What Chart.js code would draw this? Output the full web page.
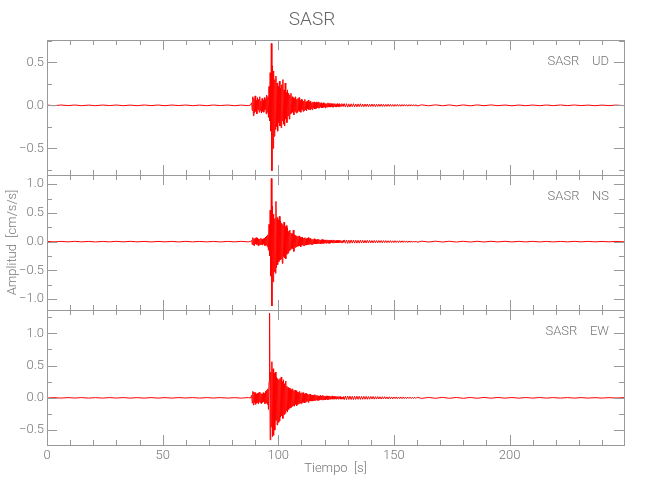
<!DOCTYPE html>
<html>
<head>
<meta charset="utf-8">
<script src="https://cdn.jsdelivr.net/npm/chart.js@4"></script>
<style>
  body { margin: 0; background: #fff; }
</style>
</head>
<body>
<canvas id="sismo" width="650" height="500"></canvas>
<script>
// ===== Datos (aceleración en cm/s/s) =====
const ESTACION = "SASR";
const COMPONENTES = ["UD", "NS", "EW"];

// marcas de los ejes
const xTicks = [0, 50, 100, 150, 200];
const yTicksUD = [-0.5, 0, 0.5];
const yTicksNS = [-1, -0.5, 0, 0.5, 1];
const yTicksEW = [-0.5, 0, 0.5, 1];

// tramo tranquilo antes del evento (s)
const tPre = [0, 3, 6, 9, 12, 15, 18, 21, 24, 27, 30, 33, 36, 39, 42, 45, 48, 51, 54, 57,
              60, 63, 66, 69, 72, 75, 78, 81, 84, 87, 88];
// fase fuerte: muestras cada DT segundos desde T0
const T0 = 88.5;
const DT = 0.25;
// coda: muestras cada DT1 segundos desde T1
const T1 = 128.5;
const DT1 = 0.5;
// ruido final (s)
const tPost = [162, 165, 168, 171, 174, 177, 180, 183, 186, 189,
               192, 195, 198, 201, 204, 207, 210, 213, 216, 219,
               222, 225, 228, 231, 234, 237, 240, 243, 246, 249.5];

// --- UD ---
const preUD = [0.003, -0.004, 0.004, -0.003, 0.004, -0.004, 0.003, -0.004, 0.004, -0.003,
               0.004, -0.004, 0.003, -0.004, 0.004, -0.003, 0.004, -0.004, 0.004, -0.003,
               0.004, -0.004, 0.003, -0.004, 0.004, -0.003, 0.004, -0.004, 0.003, -0.004, 0.003];
const actUD = [0.03, -0.06, 0.10, -0.12, 0.08, -0.09, 0.11, -0.07, 0.06, -0.10,
               0.09, -0.05, 0.07, -0.08, 0.10, -0.06, 0.05, -0.09, 0.08, -0.07,
               0.06, -0.08, 0.09, -0.05, 0.07, -0.10, 0.12, -0.08, 0.10, -0.14,
               0.22, -0.18, 0.38, -0.30, 0.72, -0.76, 0.46, -0.50, 0.40, -0.36,
               0.30, -0.28, 0.34, -0.25, 0.26, -0.30, 0.22, -0.20, 0.28, -0.24,
               0.20, -0.26, 0.24, -0.18, 0.30, -0.22, 0.18, -0.24, 0.26, -0.16,
               0.15, -0.20, 0.18, -0.12, 0.14, -0.16, 0.12, -0.10, 0.14, -0.09,
               0.10, -0.08, 0.09, -0.11, 0.08, -0.07, 0.10, -0.09, 0.07, -0.08,
               0.08, -0.06, 0.09, -0.07, 0.06, -0.08, 0.07, -0.05, 0.06, -0.07,
               0.05, -0.06, 0.07, -0.05, 0.04, -0.06, 0.05, -0.04, 0.06, -0.05,
               0.04, -0.05, 0.05, -0.04, 0.03, -0.05, 0.04, -0.03, 0.04, -0.04,
               0.03, -0.04, 0.04, -0.03, 0.03, -0.03, 0.04, -0.03, 0.03, -0.02,
               0.03, -0.03, 0.02, -0.03, 0.03, -0.02, 0.02, -0.03, 0.02, -0.02,
               0.02, -0.02, 0.03, -0.02, 0.02, -0.02, 0.02, -0.02, 0.02, -0.02,
               0.02, -0.02, 0.02, -0.01, 0.02, -0.02, 0.01, -0.02, 0.02, -0.01,
               0.01, -0.02, 0.02, -0.01, 0.01, -0.01, 0.02, -0.01, 0.01, -0.01];
const codaUD = [0.020, -0.018, 0.019, -0.021, 0.017, -0.019, 0.018, -0.016, 0.019, -0.017,
                0.016, -0.018, 0.017, -0.015, 0.018, -0.016, 0.015, -0.017, 0.016, -0.014,
                0.015, -0.016, 0.014, -0.015, 0.016, -0.013, 0.014, -0.015, 0.013, -0.014,
                0.013, -0.012, 0.014, -0.013, 0.012, -0.013, 0.011, -0.012, 0.013, -0.011,
                0.012, -0.011, 0.010, -0.012, 0.011, -0.010, 0.011, -0.010, 0.009, -0.011,
                0.010, -0.009, 0.010, -0.009, 0.008, -0.010, 0.009, -0.008, 0.009, -0.008,
                0.008, -0.009, 0.008, -0.007];
const postUD = [0.006, -0.005, 0.006, -0.005, 0.005, -0.006, 0.005, -0.005, 0.005, -0.004,
                0.005, -0.004, 0.004, -0.005, 0.004, -0.004, 0.004, -0.004, 0.004, -0.003,
                0.004, -0.003, 0.004, -0.003, 0.003, -0.004, 0.003, -0.003, 0.003, -0.003];

// --- NS ---
const preNS = [0.004, -0.005, 0.004, -0.004, 0.005, -0.004, 0.004, -0.005, 0.004, -0.004,
               0.005, -0.004, 0.005, -0.004, 0.004, -0.005, 0.004, -0.004, 0.004, -0.005,
               0.005, -0.004, 0.004, -0.004, 0.004, -0.005, 0.004, -0.004, 0.005, -0.004, 0.004];
const actNS = [0.02, -0.05, 0.07, -0.06, 0.05, -0.07, 0.06, -0.04, 0.07, -0.05,
               0.06, -0.07, 0.05, -0.06, 0.04, -0.05, 0.06, -0.05, 0.04, -0.06,
               0.05, -0.04, 0.06, -0.07, 0.08, -0.06, 0.10, -0.09, 0.12, -0.15,
               0.30, -0.25, 0.55, -0.60, 1.10, -1.12, 0.62, -0.70, 0.48, -0.52,
               0.40, -0.55, 0.70, -0.45, 0.42, -0.40, 0.38, -0.35, 0.44, -0.32,
               0.36, -0.30, 0.32, -0.38, 0.30, -0.26, 0.34, -0.28, 0.26, -0.30,
               0.28, -0.22, 0.24, -0.20, 0.18, -0.16, 0.20, -0.14, 0.15, -0.12,
               0.14, -0.12, 0.20, -0.17, 0.12, -0.10, 0.11, -0.09, 0.10, -0.08,
               0.09, -0.08, 0.10, -0.07, 0.08, -0.09, 0.07, -0.06, 0.08, -0.07,
               0.06, -0.07, 0.07, -0.06, 0.05, -0.06, 0.06, -0.05, 0.07, -0.05,
               0.05, -0.04, 0.06, -0.05, 0.04, -0.05, 0.04, -0.04, 0.05, -0.04,
               0.04, -0.04, 0.03, -0.04, 0.04, -0.03, 0.04, -0.03, 0.03, -0.04,
               0.03, -0.03, 0.04, -0.03, 0.03, -0.03, 0.03, -0.02, 0.03, -0.03,
               0.03, -0.02, 0.03, -0.03, 0.02, -0.03, 0.02, -0.02, 0.03, -0.02,
               0.02, -0.02, 0.03, -0.02, 0.02, -0.02, 0.02, -0.02, 0.02, -0.02,
               0.02, -0.02, 0.02, -0.01, 0.02, -0.02, 0.01, -0.02, 0.02, -0.01];
const codaNS = [0.030, -0.027, 0.028, -0.031, 0.026, -0.028, 0.029, -0.025, 0.027, -0.026,
                0.025, -0.027, 0.024, -0.026, 0.025, -0.023, 0.024, -0.025, 0.022, -0.024,
                0.023, -0.021, 0.022, -0.023, 0.020, -0.022, 0.021, -0.020, 0.019, -0.021,
                0.020, -0.018, 0.019, -0.020, 0.018, -0.017, 0.018, -0.019, 0.016, -0.017,
                0.017, -0.016, 0.015, -0.017, 0.016, -0.015, 0.014, -0.016, 0.015, -0.014,
                0.014, -0.013, 0.014, -0.012, 0.013, -0.014, 0.012, -0.013, 0.012, -0.011,
                0.012, -0.011, 0.010, -0.011];
const postNS = [0.008, -0.007, 0.008, -0.007, 0.007, -0.007, 0.006, -0.007, 0.006, -0.006,
                0.006, -0.005, 0.006, -0.005, 0.005, -0.005, 0.005, -0.005, 0.004, -0.005,
                0.004, -0.004, 0.005, -0.004, 0.004, -0.004, 0.004, -0.004, 0.004, -0.003];

// --- EW ---
const preEW = [-0.004, 0.003, -0.004, 0.004, -0.003, 0.004, -0.004, 0.003, -0.004, 0.004,
               -0.003, 0.004, -0.004, 0.003, -0.004, 0.004, -0.004, 0.003, -0.004, 0.004,
               -0.003, 0.004, -0.004, 0.004, -0.003, 0.004, -0.004, 0.003, -0.004, 0.004, -0.003];
const actEW = [0.04, -0.08, 0.10, -0.11, 0.09, -0.07, 0.08, -0.10, 0.06, -0.08,
               0.07, -0.09, 0.08, -0.06, 0.09, -0.08, 0.07, -0.09, 0.06, -0.07,
               0.08, -0.06, 0.07, -0.09, 0.10, -0.08, 0.12, -0.10, 0.14, -0.18,
               0.25, 1.31, -0.65, 0.40, -0.45, 0.56, -0.60, 0.45, -0.58, 0.38,
               -0.50, 0.40, -0.35, 0.32, -0.42, 0.30, -0.38, 0.28, -0.36, 0.30,
               -0.30, 0.32, -0.28, 0.25, -0.32, 0.28, -0.26, 0.22, -0.24, 0.26,
               -0.20, 0.18, -0.22, 0.16, -0.18, 0.15, -0.16, 0.14, -0.15, 0.12,
               -0.13, 0.14, -0.12, 0.11, -0.13, 0.12, -0.10, 0.11, -0.12, 0.09,
               -0.10, 0.08, -0.09, 0.10, -0.08, 0.07, -0.09, 0.08, -0.07, 0.08,
               -0.07, 0.06, -0.08, 0.07, -0.06, 0.07, -0.05, 0.06, -0.07, 0.05,
               -0.05, 0.06, -0.05, 0.04, -0.05, 0.04, -0.05, 0.04, -0.04, 0.05,
               -0.04, 0.04, -0.03, 0.04, -0.04, 0.03, -0.04, 0.03, -0.03, 0.04,
               -0.03, 0.03, -0.03, 0.04, -0.03, 0.03, -0.03, 0.02, -0.03, 0.03,
               -0.02, 0.03, -0.03, 0.02, -0.02, 0.03, -0.02, 0.02, -0.02, 0.03,
               -0.02, 0.02, -0.02, 0.02, -0.02, 0.02, -0.02, 0.02, -0.01, 0.02,
               -0.02, 0.02, -0.01, 0.02, -0.02, 0.01, -0.02, 0.01, -0.01, 0.02];
const codaEW = [-0.028, 0.026, -0.027, 0.029, -0.025, 0.027, -0.026, 0.024, -0.027, 0.025,
                -0.024, 0.026, -0.023, 0.025, -0.024, 0.022, -0.023, 0.024, -0.021, 0.023,
                -0.022, 0.020, -0.021, 0.022, -0.019, 0.021, -0.020, 0.018, -0.019, 0.020,
                -0.018, 0.017, -0.019, 0.017, -0.016, 0.018, -0.016, 0.015, -0.017, 0.016,
                -0.015, 0.014, -0.016, 0.014, -0.013, 0.015, -0.014, 0.013, -0.012, 0.014,
                -0.013, 0.012, -0.012, 0.011, -0.012, 0.011, -0.010, 0.011, -0.010, 0.010,
                -0.010, 0.009, -0.010, 0.009];
const postEW = [-0.008, 0.007, -0.007, 0.008, -0.007, 0.006, -0.007, 0.006, -0.006, 0.006,
                -0.005, 0.006, -0.005, 0.005, -0.005, 0.005, -0.004, 0.005, -0.004, 0.004,
                -0.004, 0.004, -0.004, 0.004, -0.004, 0.003, -0.004, 0.003, -0.003, 0.003];

// rangos de cada panel
const yRangoUD = [-0.81, 0.76];
const yRangoNS = [-1.19, 1.16];
const yRangoEW = [-0.73, 1.36];
const xMax = 249.5;

// ===== Armado de las series =====
function serie(pre, act, coda, post) {
    const pts = [];
    tPre.forEach((t, i) => pts.push({ x: t, y: pre[i] }));
    act.forEach((v, i) => pts.push({ x: T0 + i * DT, y: v }));
    coda.forEach((v, i) => pts.push({ x: T1 + i * DT1, y: v }));
    tPost.forEach((t, i) => pts.push({ x: t, y: post[i] }));
    return pts;
}

const FUENTE = "'Roboto', 'Liberation Sans', sans-serif";
const GRIS = '#777';
const MARCO = '#999';

function fmt(v) {
    const s = Math.abs(v).toFixed(1);
    return v < 0 ? '\u2212' + s : s;
}

function ejeY(rango, marcas, extra) {
    return Object.assign({
        type: 'linear',
        position: 'left',
        stack: 'sismo',
        stackWeight: 1,
        min: rango[0],
        max: rango[1],
        grid: { display: false, drawTicks: false },
        border: { display: false },
        ticks: {
            padding: 3,
            color: GRIS,
            font: { family: FUENTE, size: 13, weight: 300 },
            callback: v => fmt(v)
        },
        afterBuildTicks: s => { s.ticks = marcas.map(v => ({ value: v })); },
        afterFit: s => { s.width = 47; }
    }, extra || {});
}

// marco de cada panel, marcas de escala hacia dentro y rótulo de componente
const marcoPlugin = {
    id: 'marco',
    afterDatasetsDraw(chart) {
        const ctx = chart.ctx;
        const x = chart.scales.x;
        const { left, right } = chart.chartArea;
        ctx.save();
        ctx.strokeStyle = MARCO;
        ctx.lineWidth = 1;
        ['yUD', 'yNS', 'yEW'].forEach((id, k) => {
            const s = chart.scales[id];
            const top = Math.round(s.top), bot = Math.round(s.bottom);
            ctx.strokeRect(left + 0.5, top + 0.5, right - left, bot - top);
            ctx.beginPath();
            for (let v = Math.ceil(s.min * 4) / 4; v <= s.max; v += 0.25) {
                const py = Math.round(s.getPixelForValue(v)) + 0.5;
                const largo = Math.abs(v * 2 - Math.round(v * 2)) < 1e-6 ? 10 : 5;
                ctx.moveTo(left, py); ctx.lineTo(left + largo, py);
                ctx.moveTo(right, py); ctx.lineTo(right - largo, py);
            }
            for (let t = 0; t <= x.max; t += 10) {
                const px = Math.round(x.getPixelForValue(t)) + 0.5;
                const largo = t % 50 === 0 ? 10 : 5;
                ctx.moveTo(px, top); ctx.lineTo(px, top + largo);
                ctx.moveTo(px, bot); ctx.lineTo(px, bot - largo);
            }
            ctx.stroke();
            ctx.fillStyle = GRIS;
            ctx.font = '300 13px ' + FUENTE;
            ctx.textAlign = 'right';
            ctx.textBaseline = 'middle';
            ctx.fillText(ESTACION + '    ' + COMPONENTES[k], right - 15, top + 22);
        });
        ctx.restore();
    }
};

new Chart(document.getElementById('sismo'), {
    type: 'line',
    data: {
        datasets: [
            { label: 'UD', data: serie(preUD, actUD, codaUD, postUD), yAxisID: 'yUD' },
            { label: 'NS', data: serie(preNS, actNS, codaNS, postNS), yAxisID: 'yNS' },
            { label: 'EW', data: serie(preEW, actEW, codaEW, postEW), yAxisID: 'yEW' }
        ]
    },
    options: {
        responsive: false,
        animation: false,
        devicePixelRatio: 1,
        layout: { padding: { left: 0, right: 26, top: 0, bottom: 0 } },
        elements: {
            line: { borderColor: '#ff0000', borderWidth: 1, tension: 0 },
            point: { radius: 0 }
        },
        plugins: {
            legend: { display: false },
            tooltip: { enabled: false },
            title: {
                display: true,
                text: ESTACION,
                color: '#666',
                font: { family: FUENTE, size: 19, weight: 300 },
                padding: { top: 8.6, bottom: 8.6 }
            }
        },
        scales: {
            x: {
                type: 'linear',
                position: 'bottom',
                min: 0,
                max: xMax,
                grid: { display: false, drawTicks: false },
                border: { display: false },
                ticks: {
                    padding: 3,
                    maxRotation: 0,
                    autoSkip: false,
                    color: GRIS,
                    font: { family: FUENTE, size: 13, weight: 300 }
                },
                afterBuildTicks: s => { s.ticks = xTicks.map(v => ({ value: v })); },
                title: {
                    display: true,
                    text: 'Tiempo  [s]',
                    color: GRIS,
                    font: { family: FUENTE, size: 13, weight: 300 },
                    padding: { top: 0, bottom: 23 }
                },
                afterFit: s => { s.height = 55; }
            },
            // el último eje definido queda arriba en la pila
            yEW: ejeY(yRangoEW, yTicksEW),
            yNS: ejeY(yRangoNS, yTicksNS, {
                title: {
                    display: true,
                    text: 'Amplitud  [cm/s/s]',
                    color: GRIS,
                    font: { family: FUENTE, size: 13, weight: 300 },
                    padding: { top: 5, bottom: 0 }
                }
            }),
            yUD: ejeY(yRangoUD, yTicksUD)
        }
    },
    plugins: [marcoPlugin]
});
</script>
</body>
</html>
